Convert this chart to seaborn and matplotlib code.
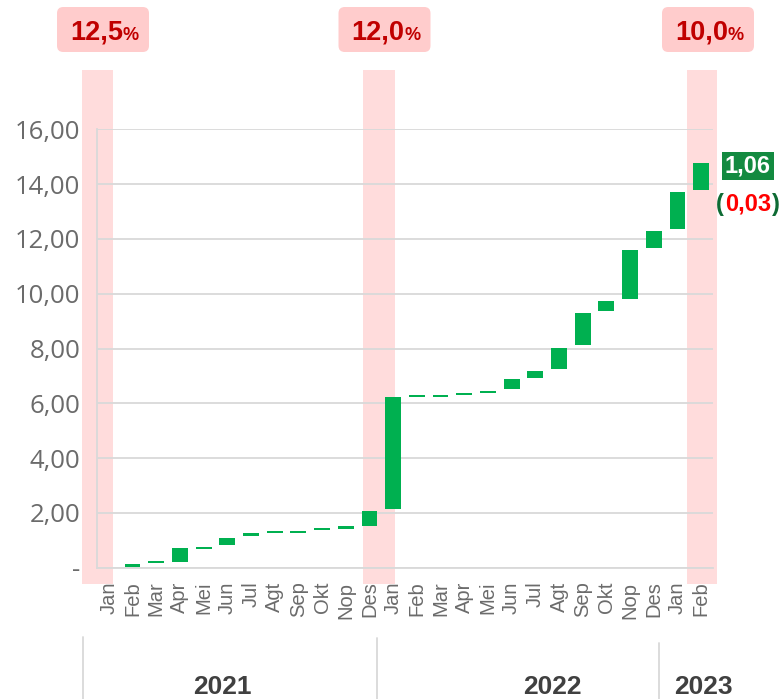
import numpy as np
import pandas as pd
import matplotlib.pyplot as plt
import seaborn as sns
from matplotlib.patches import FancyBboxPatch
from matplotlib.lines import Line2D

# data
months = ['Jan', 'Feb', 'Mar', 'Apr', 'Mei', 'Jun', 'Jul', 'Agt', 'Sep', 'Okt', 'Nop', 'Des',
          'Jan', 'Feb', 'Mar', 'Apr', 'Mei', 'Jun', 'Jul', 'Agt', 'Sep', 'Okt', 'Nop', 'Des',
          'Jan', 'Feb']
years = [2021] * 12 + [2022] * 12 + [2023] * 2
low = [0.00, 0.01, 0.16, 0.22, 0.69, 0.83, 1.16, 1.26, 1.26, 1.38, 1.43, 1.52,
       2.14, 6.24, 6.24, 6.30, 6.36, 6.51, 6.93, 7.25, 8.12, 9.37, 9.80, 11.66,
       12.36, 13.78]
high = [0.00, 0.13, 0.24, 0.71, 0.77, 1.07, 1.26, 1.34, 1.34, 1.46, 1.51, 2.07,
        6.24, 6.32, 6.32, 6.38, 6.44, 6.88, 7.18, 8.03, 9.28, 9.73, 11.59, 12.29,
        13.72, 14.76]
rate_labels = ['12,5', '12,0', '10,0']
ytd_label = '1,06'
mtm_label = '0,03'

df = pd.DataFrame({'month': months, 'year': years, 'low': low, 'high': high})
df['key'] = df['month'] + ' ' + df['year'].astype(str)
df['change'] = df['high'] - df['low']

sns.set_style('white')
plt.rcParams['font.family'] = ['Open Sans', 'DejaVu Sans']

W, H = 781, 699
fig = plt.figure(figsize=(W / 100, H / 100), dpi=100)
ax = fig.add_axes([97 / W, 1 - 567.7 / H, 616 / W, 438.4 / H])


def fx(x):
    return x / W


def fy(y):
    return 1 - y / H


green = '#00B050'
sns.barplot(data=df, x='key', y='change', bottom=df['low'], color=green, saturation=1,
            width=0.67, errorbar=None, linewidth=0, ax=ax, zorder=3)

ax.set_xlim(-0.5, len(months) - 0.5)
ax.set_ylim(0, 16)

# pink highlight bands (policy rate changes)
band_color = '#FFDCDC'
for x0, x1 in [(-1.13, 0.17), (10.73, 12.08), (24.40, 25.67)]:
    ax.axvspan(x0, x1, ymin=-0.037, ymax=1.136, color=band_color, lw=0,
               zorder=0.2, clip_on=False)

yt = np.arange(0, 17, 2)
ax.set_yticks(yt)
ax.set_yticklabels(['-'] + [f'{v:.2f}'.replace('.', ',') for v in yt[1:]])
ax.set_xticks(range(len(months)))
ax.set_xticklabels(months, rotation=90, family=['Liberation Sans', 'DejaVu Sans'])
ax.set_xlabel('')
ax.set_ylabel('')
ax.tick_params(axis='y', length=0, pad=12, labelsize=18.5, labelcolor='#6b6b6b')
ax.tick_params(axis='x', length=0, pad=10, labelsize=14.5, labelcolor='#6b6b6b')

ax.set_axisbelow(True)
ax.yaxis.grid(True, color='#D9D9D9', lw=1.3)
for side in ['top', 'right']:
    ax.spines[side].set_visible(False)
for side in ['left', 'bottom']:
    ax.spines[side].set_color('#D9D9D9')
    ax.spines[side].set_linewidth(1.3)

# rate boxes on top
for cx, txt in zip([103, 384.5, 708], rate_labels):
    box = FancyBboxPatch((fx(cx - 46), fy(52)), 92 / W, 45 / H,
                         boxstyle='round,pad=0,rounding_size=0.008',
                         mutation_aspect=W / H, transform=fig.transFigure,
                         fc='#FFCCCC', ec='none')
    fig.add_artist(box)
    fig.text(fx(cx + 20), fy(40), txt, ha='right', va='baseline', color='#C00000',
             fontsize=19.5, fontweight='bold', family=['Liberation Sans', 'DejaVu Sans'])
    fig.text(fx(cx + 20), fy(40), '%', ha='left', va='baseline', color='#C00000',
             fontsize=13, fontweight='bold', family=['Liberation Sans', 'DejaVu Sans'])

# labels next to last bar
fig.text(fx(748), fy(166), ytd_label, ha='center', va='center', color='white',
         fontsize=17, fontweight='bold', family=['Liberation Sans', 'DejaVu Sans'],
         bbox=dict(boxstyle='square,pad=0.12', fc='#138A40', ec='none'))
fig.text(fx(748), fy(204), mtm_label, ha='center', va='center', color='#FF0000',
         fontsize=17, fontweight='bold', family=['Liberation Sans', 'DejaVu Sans'])
fig.text(fx(724), fy(204), '(', ha='right', va='center', color='#0E6B34',
         fontsize=17, fontweight='bold', family=['Liberation Sans', 'DejaVu Sans'])
fig.text(fx(772), fy(204), ')', ha='left', va='center', color='#0E6B34',
         fontsize=17, fontweight='bold', family=['Liberation Sans', 'DejaVu Sans'])

# year row below the month labels
for x, y0 in [(83, 637), (377, 638), (659, 643)]:
    fig.add_artist(Line2D([fx(x), fx(x)], [fy(y0), fy(699)], color='#D9D9D9', lw=1.3,
                          transform=fig.transFigure))
for cx, yr in zip([222, 552, 703], sorted(set(years))):
    fig.text(fx(cx), fy(687), str(yr), ha='center', va='center', color='#404040',
             fontsize=19, fontweight='bold',
             family=['Liberation Sans Narrow', 'Liberation Sans', 'DejaVu Sans'])

fig.savefig('out.png', dpi=100)
